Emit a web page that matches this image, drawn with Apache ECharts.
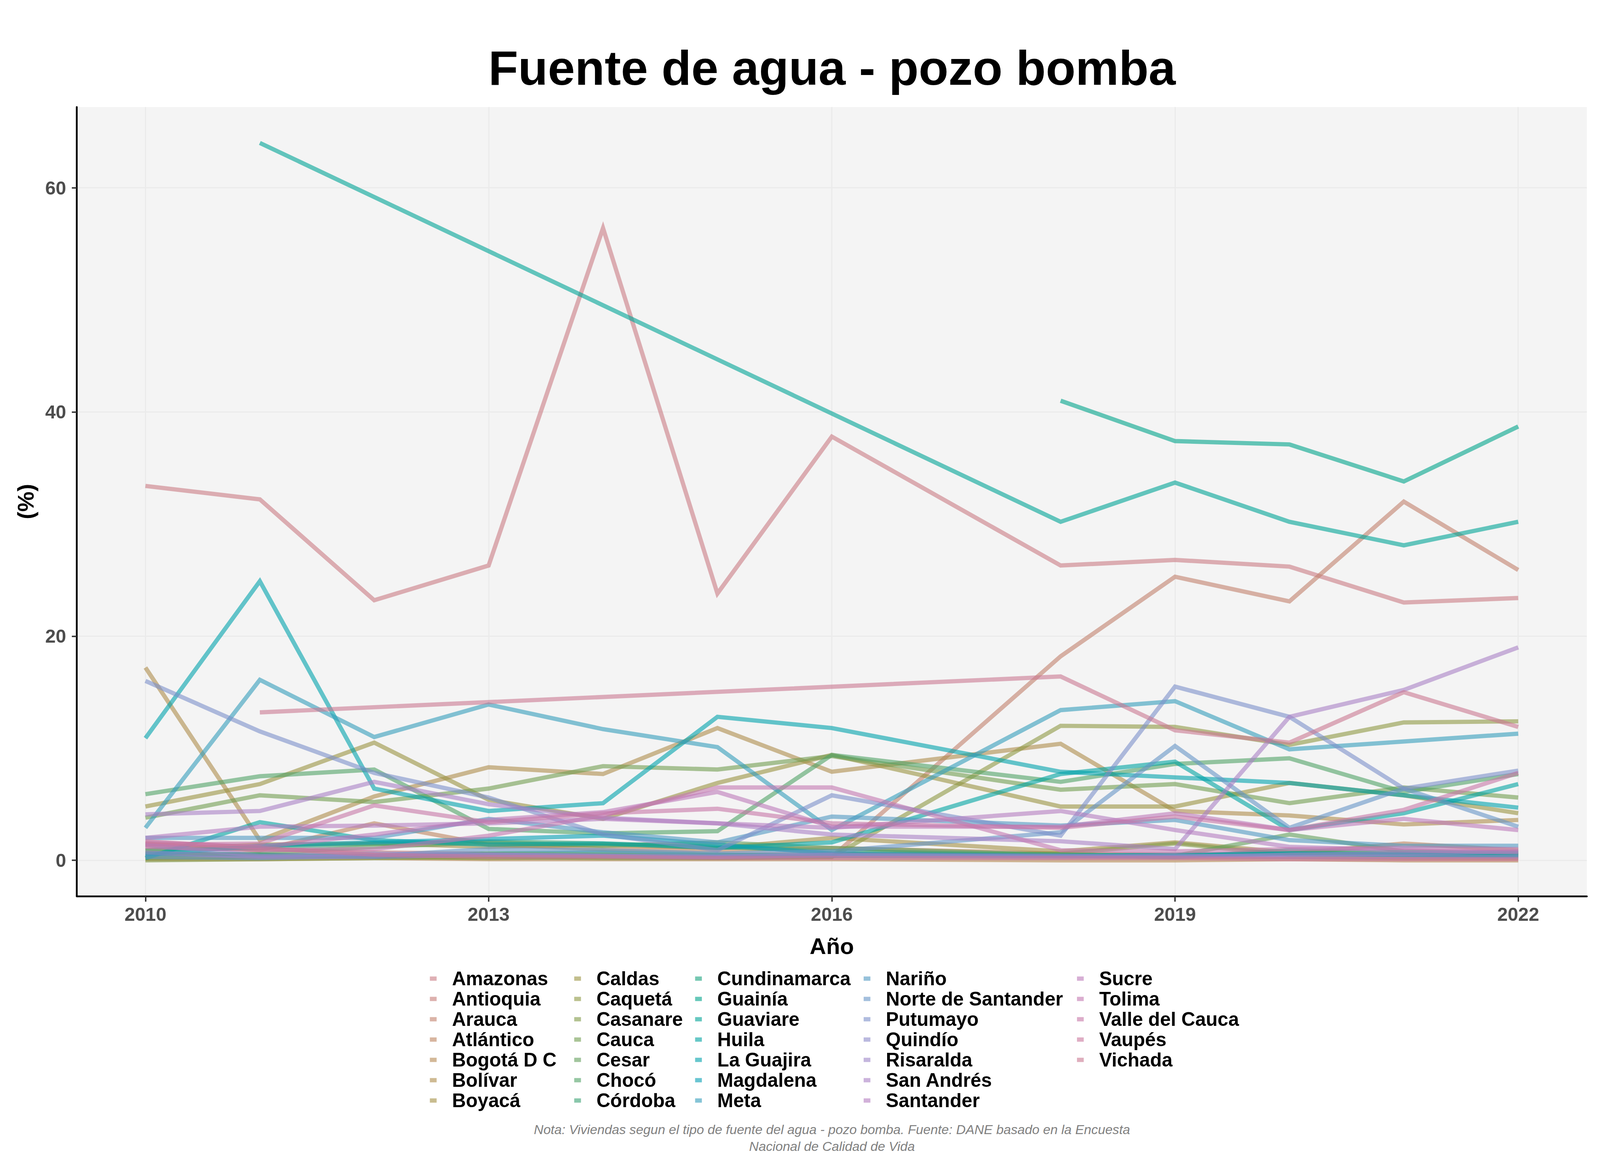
<!DOCTYPE html>
<html>
<head>
<meta charset="utf-8">
<script src="https://cdn.jsdelivr.net/npm/echarts@6/dist/echarts.min.js"></script>
<style>
html,body{margin:0;padding:0;background:#ffffff;overflow:hidden;}
#chart{position:absolute;left:0;top:0;}
</style>
</head>
<body>
<div id="chart"></div>
<script>
// ---------------- DATA ----------------
const years = [2010, 2011, 2012, 2013, 2014, 2015, 2016, 2018, 2019, 2020, 2021, 2022];
const xTicks = [2010, 2013, 2016, 2019, 2022];
const yTicks = [0, 20, 40, 60];

const departamentos = ["Amazonas","Antioquia","Arauca","Atlántico","Bogotá D C","Bolívar","Boyacá",
  "Caldas","Caquetá","Casanare","Cauca","Cesar","Chocó","Córdoba",
  "Cundinamarca","Guainía","Guaviare","Huila","La Guajira","Magdalena","Meta",
  "Nariño","Norte de Santander","Putumayo","Quindío","Risaralda","San Andrés","Santander",
  "Sucre","Tolima","Valle del Cauca","Vaupés","Vichada"];

const amazonas     = [33.4, 32.2, 23.2, 26.3, 56.4, 23.8, 37.8, 26.3, 26.8, 26.2, 23.0, 23.4];
const antioquia    = [1.3, 1.0, 0.7, 0.6, 0.5, 0.5, 0.6, 0.4, 0.3, 0.3, 0.2, 0.2];
const arauca       = [0.6, 0.5, 0.4, 0.5, 0.4, 0.3, 0.3, 18.2, 25.3, 23.1, 32.0, 25.9];
const atlantico    = [1.5, 0.9, 3.3, 1.4, 1.0, 0.9, 1.1, 0.6, 0.5, 0.6, 1.5, 0.9];
const bogota       = [0.1, 0.1, 0.2, 0.1, 0.1, 0.1, 0.1, 0.0, 0.0, 0.1, 0.0, 0.0];
const bolivar      = [17.2, 1.8, 5.7, 8.3, 7.7, 11.8, 7.9, 10.4, 4.4, 4.0, 3.2, 3.6];
const boyaca       = [0.9, 1.4, 1.5, 1.2, 1.4, 1.1, 2.0, 0.8, 1.6, 0.7, 0.6, 0.5];
const caldas       = [4.8, 6.8, 10.5, 5.4, 3.7, 6.9, 9.4, 4.8, 4.8, 6.9, 5.8, 4.2];
const caqueta      = [0.2, 0.3, 0.3, 0.2, 0.3, 0.2, 0.3, 12.0, 11.9, 10.3, 12.3, 12.4];
const casanare     = [0.0, 0.1, 0.2, 0.3, 0.2, 0.2, 0.4, 0.6, 1.5, 0.5, 0.4, 0.4];
const cauca        = [3.8, 5.8, 5.2, 6.4, 8.4, 8.1, 9.3, 6.3, 6.8, 5.1, 6.5, 5.6];
const cesar        = [0.4, 0.6, 1.2, 1.6, 1.3, 1.6, 1.1, 0.5, 0.4, 2.3, 0.8, 0.6];
const choco        = [5.9, 7.5, 8.1, 2.8, 2.4, 2.6, 9.4, 7.0, 8.6, 9.1, 6.1, 7.7];
const cordoba      = [0.9, 1.1, 1.5, 1.7, 1.5, 1.2, 0.8, 0.5, 0.4, 0.6, 0.5, 0.5];
const cundinamarca = [0.6, 0.5, 0.3, 0.6, 0.7, 0.5, 0.4, 0.4, 0.3, 0.9, 0.7, 0.7];
const guainia      = [null, null, null, null, null, null, null, 41.0, 37.4, 37.1, 33.8, 38.7];
const guaviare     = [null, 64.0, null, null, null, null, null, 30.2, 33.7, 30.2, 28.1, 30.2];
const huila        = [0.2, 3.4, 1.8, 1.4, 1.5, 1.1, 1.6, 7.7, 8.8, 2.7, 4.2, 6.8];
const laGuajira    = [10.9, 24.9, 6.4, 4.4, 5.1, 12.8, 11.8, 7.9, 7.4, 6.9, 5.8, 4.7];
const magdalena    = [0.5, 1.3, 1.6, 1.9, 2.2, 1.4, 0.6, 0.4, 0.5, 0.6, 0.5, 0.4];
const meta         = [2.9, 16.1, 11.0, 13.9, 11.7, 10.1, 2.7, 13.4, 14.2, 9.9, 10.6, 11.3];
const narino       = [2.0, 2.0, 2.0, 3.7, 2.5, 1.6, 3.9, 3.1, 3.6, 1.8, 1.3, 1.3];
const norteSantander = [0.3, 0.2, 0.4, 1.0, 0.9, 0.6, 0.8, 2.5, 10.2, 2.9, 6.4, 3.0];
const putumayo     = [16.0, 11.5, 7.8, 5.6, 2.3, 0.9, 5.8, 2.2, 15.5, 12.8, 6.4, 8.0];
const quindio      = [1.4, 0.4, 0.6, 0.5, 0.4, 0.3, 0.4, 0.3, 0.4, 0.3, 0.3, 0.3];
const risaralda    = [0.7, 0.3, 0.3, 0.5, 0.4, 0.3, 0.5, 0.4, 0.3, 0.5, 0.6, 0.8];
const sanAndres    = [4.1, 4.4, 7.0, 5.0, 3.8, 3.3, 2.3, 1.7, 1.0, 12.8, 15.2, 19.0];
const santander    = [2.0, 3.0, 3.1, 3.3, 3.7, 3.3, 2.9, 4.4, 2.7, 1.2, 0.9, 0.7];
const sucre        = [1.6, 1.2, 2.3, 3.6, 4.3, 6.1, 3.0, 3.0, 4.2, 2.7, 3.7, 2.7];
const tolima       = [1.2, 0.9, 1.0, 2.2, 4.0, 6.5, 6.5, 0.9, 0.8, 1.0, 1.1, 1.0];
const valle        = [1.4, 1.5, 4.9, 3.4, 4.2, 4.6, 3.3, 2.9, 3.9, 2.7, 4.5, 7.8];
const vaupes       = [1.7, 1.1, 0.5, 0.3, 0.3, 0.2, 0.2, 0.2, 0.2, 0.1, 0.1, 0.1];
const vichada      = [null, 13.2, null, null, null, null, null, 16.4, 11.6, 10.5, 15.0, 11.9];

const seriesValues = [amazonas, antioquia, arauca, atlantico, bogota, bolivar, boyaca,
  caldas, caqueta, casanare, cauca, cesar, choco, cordoba,
  cundinamarca, guainia, guaviare, huila, laGuajira, magdalena, meta,
  narino, norteSantander, putumayo, quindio, risaralda, sanAndres, santander,
  sucre, tolima, valle, vaupes, vichada];

// ---------------- LAYOUT (designed for 4500x3000, fitted to the viewport) ----------------
const W = window.innerWidth || 4500, H = window.innerHeight || 3000;
const SX = W / 4500, SY = H / 3000;
const px = v => v * SX;    // horizontal positions
const py = v => v * SY;    // vertical positions
const p = v => v * SX;     // sizes (fonts, strokes)
const el = document.getElementById('chart');
el.style.width = W + 'px';
el.style.height = H + 'px';

const FONT = "'Liberation Sans', Arial, Helvetica, sans-serif";

function hclToRgb(h, c, l) {
  const hr = h * Math.PI / 180;
  const U = c * Math.cos(hr), V = c * Math.sin(hr);
  const Xn = 0.95047, Yn = 1.0, Zn = 1.08883;
  const un = 4 * Xn / (Xn + 15 * Yn + 3 * Zn), vn = 9 * Yn / (Xn + 15 * Yn + 3 * Zn);
  const Y = l > 8 ? Yn * Math.pow((l + 16) / 116, 3) : Yn * l / 903.2963;
  const u = U / (13 * l) + un, v = V / (13 * l) + vn;
  const X = Y * 9 * u / (4 * v), Z = Y * (12 - 3 * u - 20 * v) / (4 * v);
  const r = 3.2404542 * X - 1.5371385 * Y - 0.4985314 * Z;
  const g = -0.9692660 * X + 1.8760108 * Y + 0.0415560 * Z;
  const b = 0.0556434 * X - 0.2040259 * Y + 1.0572252 * Z;
  const gm = t => { t = Math.max(0, Math.min(1, t)); return Math.round(255 * (t <= 0.0031308 ? 12.92 * t : 1.055 * Math.pow(t, 1 / 2.4) - 0.055)); };
  return [gm(r), gm(g), gm(b)];
}
const n = departamentos.length;
const colors = departamentos.map((d, i) => {
  const [r, g, b] = hclToRgb(5 + 360 * i / n, 52, 60);
  return `rgba(${r},${g},${b},0.6)`;
});

const series = departamentos.map((name, i) => ({
  name: name,
  type: 'line',
  symbol: 'none',
  connectNulls: true,
  color: colors[i],
  lineStyle: { width: p(12), color: colors[i], cap: 'butt', join: 'miter' },
  itemStyle: { color: colors[i] },
  emphasis: { disabled: true },
  data: years.map((y, k) => [y, seriesValues[i][k]]).filter(q => q[1] !== null)
}));

const columns = [
  departamentos.slice(0, 7), departamentos.slice(7, 14), departamentos.slice(14, 21),
  departamentos.slice(21, 28), departamentos.slice(28, 33)
];
const keyLeft = [1209, 1615, 1955, 2429, 3029];
const legends = columns.map((names, k) => ({
  data: names,
  orient: 'vertical',
  left: px(keyLeft[k]),
  top: py(2479),
  padding: 0,
  itemWidth: px(19),
  itemHeight: py(11),
  itemGap: 0,
  icon: 'rect',
  selectedMode: false,
  itemStyle: { borderWidth: 0 },
  textStyle: { fontSize: p(54), fontWeight: 'bold', color: '#000000', fontFamily: FONT, lineHeight: py(52), padding: [0, 0, 0, px(38)] }
}));

const chart = echarts.init(el, null, { renderer: 'svg', width: W, height: H });
chart.setOption({
  animation: false,
  backgroundColor: '#ffffff',
  title: {
    text: 'Fuente de agua - pozo bomba',
    left: px(2340), top: py(173), textAlign: 'center', textVerticalAlign: 'middle', padding: 0,
    textStyle: { fontSize: p(137), fontWeight: 'bold', color: '#000000', fontFamily: FONT }
  },
  legend: legends,
  grid: { left: px(216), right: px(37), top: py(274), bottom: py(706), show: true, backgroundColor: '#F4F4F4', borderWidth: 0 },
  xAxis: {
    type: 'value', min: 2009.4, max: 2022.6,
    name: 'Año', nameLocation: 'middle', nameGap: py(98),
    nameTextStyle: { fontSize: p(64), fontWeight: 'bold', color: '#000000', fontFamily: FONT },
    axisLine: { show: true, onZero: false, lineStyle: { color: '#000000', width: p(5) } },
    axisTick: { show: true, length: py(14), customValues: xTicks, lineStyle: { color: '#333333', width: p(4) } },
    axisLabel: { customValues: xTicks, formatter: v => String(v), fontSize: p(53), fontWeight: 'bold', color: '#4D4D4D', margin: py(22), fontFamily: FONT },
    splitLine: { show: true, lineStyle: { color: '#EBEBEB', width: p(3.5) } }
  },
  yAxis: {
    type: 'value', min: -3.2, max: 67.2,
    name: '(%)', nameLocation: 'middle', nameGap: px(112), nameRotate: 90,
    nameTextStyle: { fontSize: p(64), fontWeight: 'bold', color: '#000000', fontFamily: FONT },
    axisLine: { show: true, onZero: false, lineStyle: { color: '#000000', width: p(5) } },
    axisTick: { show: true, length: px(14), customValues: yTicks, lineStyle: { color: '#333333', width: p(4) } },
    axisLabel: { customValues: yTicks, formatter: v => String(v), fontSize: p(53), fontWeight: 'bold', color: '#4D4D4D', margin: px(30), fontFamily: FONT },
    splitLine: { show: true, lineStyle: { color: '#EBEBEB', width: p(3.5) } }
  },
  graphic: [
    { type: 'text', x: px(2340), y: py(2891), style: { text: 'Nota: Viviendas segun el tipo de fuente del agua - pozo bomba. Fuente: DANE basado en la Encuesta', fontSize: p(37), fontStyle: 'italic', fill: '#808080', fontFamily: FONT, align: 'center', verticalAlign: 'middle' } },
    { type: 'text', x: px(2340), y: py(2934), style: { text: 'Nacional de Calidad de Vida', fontSize: p(37), fontStyle: 'italic', fill: '#808080', fontFamily: FONT, align: 'center', verticalAlign: 'middle' } }
  ],
  series: series
});
</script>
</body>
</html>
